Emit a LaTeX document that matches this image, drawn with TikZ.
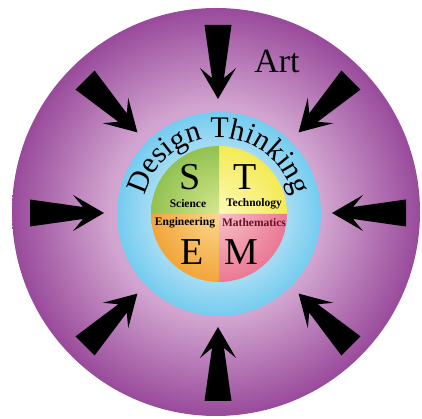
\documentclass[tikz,border=0pt]{standalone}
\usepackage{fontspec}
\setmainfont{Liberation Serif}
\usetikzlibrary{decorations.text}
\definecolor{purpA}{HTML}{DCB6DA}
\definecolor{purpB}{HTML}{D2A5D0}
\definecolor{purpC}{HTML}{994A9B}
\definecolor{bluA}{HTML}{C2E8F7}
\definecolor{bluB}{HTML}{A9DDF4}
\definecolor{bluC}{HTML}{74CCF0}
\definecolor{sciIn}{HTML}{D6E88E}
\definecolor{sciOut}{HTML}{92C251}
\definecolor{tecIn}{HTML}{FDFAB8}
\definecolor{tecOut}{HTML}{F4EA55}
\definecolor{engIn}{HTML}{FBD890}
\definecolor{engOut}{HTML}{F2A53A}
\definecolor{matIn}{HTML}{F7C2C8}
\definecolor{matOut}{HTML}{EA7894}
\definecolor{mathtxt}{HTML}{6A0F2A}
\pgfdeclareradialshading{purpshade}{\pgfpoint{0bp}{0bp}}{color(0bp)=(purpA); color(13bp)=(purpB); color(25bp)=(purpC); color(50bp)=(purpC)}
\pgfdeclareradialshading{blushade}{\pgfpoint{0bp}{0bp}}{color(0bp)=(bluA); color(16bp)=(bluB); color(25bp)=(bluC); color(50bp)=(bluC)}
\newcommand\dtsize{\fontsize{30}{30}\selectfont}
\tikzset{
  inarrow/.style={fill=black, draw=none},
  bigletter/.style={font=\fontsize{38}{38}\selectfont, inner sep=0pt},
  sublabel/.style={font=\fontsize{11.5}{12}\selectfont\bfseries, inner sep=0pt},
}
\begin{document}
\begin{tikzpicture}[x=1pt,y=1pt]
\useasboundingbox (0,0) rectangle (422,419);
\coordinate (O) at (216,207);
\coordinate (C) at (219,205);
\coordinate (A) at (218,206);
% outer purple disc
\shade[shading=purpshade] (O) circle (204);
% blue ring
\shade[shading=blushade] (C) circle (102);
% STEM quadrants
\begin{scope}
  \clip (C) -- ++(68,0) arc[start angle=0,end angle=90,radius=68] -- cycle;
  \shade[inner color=tecIn, outer color=tecOut] (C) circle (68);
\end{scope}
\begin{scope}
  \clip (C) -- ++(0,68) arc[start angle=90,end angle=180,radius=68] -- cycle;
  \shade[inner color=sciIn, outer color=sciOut] (C) circle (68);
\end{scope}
\begin{scope}
  \clip (C) -- ++(-68,0) arc[start angle=180,end angle=270,radius=68] -- cycle;
  \shade[inner color=engIn, outer color=engOut] (C) circle (68);
\end{scope}
\begin{scope}
  \clip (C) -- ++(0,-68) arc[start angle=270,end angle=360,radius=68] -- cycle;
  \shade[inner color=matIn, outer color=matOut] (C) circle (68);
\end{scope}
% arrows
\foreach \ang in {0,45,...,315}{
  \begin{scope}[shift={(A)}, rotate=\ang]
    \fill[inarrow] (188,13.5) -- (135,6) -- (145,18) -- (114,0) -- (145,-18) -- (135,-6) -- (188,-13.5) -- cycle;
  \end{scope}
}
% texts
\node[font=\fontsize{34}{34}\selectfont, inner sep=0pt] (art) at (277,358) {Art};
\path[decorate, decoration={text along path, text={|\dtsize|Design Thinking}, text align=center}]
  (143,205) arc[start angle=180,end angle=0,radius=76];
\node[bigletter] (S) at (190,242) {S};
\node[bigletter] (T) at (245,242) {T};
\node[bigletter] (E) at (192,167) {E};
\node[bigletter] (M) at (241,167) {M};
\node[sublabel] (sci) at (188,215) {Science};
\node[sublabel] (tec) at (254,215) {Technology};
\node[sublabel] (eng) at (185,196) {Engineering};
\node[sublabel, text=mathtxt] (mat) at (254,196) {Mathematics};
\end{tikzpicture}
\end{document}
